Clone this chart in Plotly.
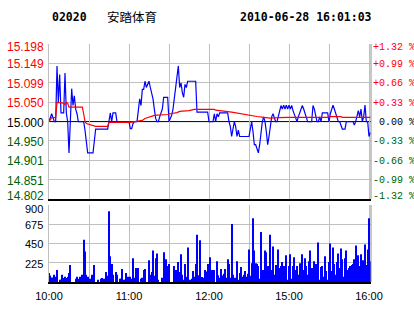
import plotly.graph_objects as go

# ---------------- data ----------------
stock_code = "02020"
stock_name = "安踏体育"
stamp = "2010-06-28 16:01:03"
prev_close = 15.000

# minutes since 10:00 on a compressed trading-time axis (lunch break removed)
price_minute = [0, 1, 2, 3, 4, 5, 6, 7, 8, 9, 10, 11, 12, 13, 14, 15, 16, 17, 18, 19, 20, 21, 22, 26,
                27, 28, 29, 33, 34, 35, 44, 45, 46, 47, 48, 50, 51, 60, 61, 62, 63, 64, 66, 67, 68, 69,
                70, 71, 72, 73, 74, 75, 76, 77, 78, 79, 80, 81, 82, 83, 84, 85, 86, 89, 90, 91, 92, 93,
                94, 95, 96, 97, 98, 99, 100, 101, 102, 103, 104, 110, 111, 119, 120, 123, 124, 125, 126,
                127, 128, 134, 135, 136, 137, 138, 139, 140, 141, 142, 143, 150, 151, 152, 153, 154, 155,
                156, 157, 158, 159, 160, 161, 162, 163, 164, 165, 166, 167, 168, 169, 170, 171, 172, 173,
                174, 175, 176, 177, 178, 179, 180, 181, 182, 183, 184, 185, 186, 187, 188, 189, 190, 191,
                192, 193, 194, 197, 198, 199, 200, 201, 202, 203, 204, 205, 209, 210, 211, 212, 213, 214,
                215, 216, 217, 218, 219, 220, 222, 223, 228, 229, 230, 231, 232, 233, 234, 235, 236, 237,
                238, 239, 240, 241]
price = [15.000, 15.010, 15.020, 15.010, 15.000, 15.000, 15.142, 15.049, 15.120, 15.022, 15.022, 15.022,
         15.124, 15.022, 15.000, 14.920, 15.000, 15.084, 15.041, 15.066, 15.032, 15.020, 15.000, 15.000,
         14.978, 14.953, 14.920, 14.920, 14.953, 14.981, 14.981, 15.000, 15.022, 15.000, 15.022, 15.022,
         15.000, 15.000, 14.982, 14.982, 14.995, 15.000, 15.000, 15.028, 15.058, 15.041,
         15.082, 15.082, 15.103, 15.087, 15.095, 15.103, 15.087, 15.074, 15.058, 15.032, 15.008, 15.000,
         15.000, 15.012, 15.020, 15.032, 15.062, 15.062, 15.000, 15.008, 15.016, 15.032,
         15.058, 15.082, 15.103, 15.142, 15.087, 15.099, 15.074, 15.062, 15.095, 15.087, 15.103, 15.103,
         15.024, 15.024, 15.000, 15.000, 15.020, 15.000, 15.020,
         15.012, 15.022, 15.022, 15.000, 14.987, 14.962, 14.987, 15.000, 14.987, 14.962, 14.978, 14.962,
         14.962, 14.978, 15.000, 14.974, 14.941, 14.941,
         14.928, 14.920, 14.941, 14.978, 15.000, 15.012, 15.000, 14.974, 14.941, 14.962, 14.987, 15.012,
         15.020, 15.012, 15.000, 15.000, 15.012, 15.024,
         15.041, 15.032, 15.042, 15.032, 15.042, 15.032, 15.042, 15.032, 15.041, 15.028, 15.020, 15.012,
         15.000, 15.012, 15.022, 15.032, 15.041, 15.032,
         15.020, 15.012, 15.000, 15.000, 15.041, 15.032, 15.012, 15.000, 15.000, 15.012, 15.000, 15.022,
         15.022, 15.000, 15.020, 15.032, 15.042, 15.032,
         15.020, 15.012, 15.000, 15.000, 14.987, 14.981, 14.981, 15.000, 15.000, 14.991, 15.000, 15.012,
         15.028, 15.012, 15.032, 15.000, 15.012, 15.042,
         15.000, 15.000, 14.962, 14.972]

avg_minute = [0, 2, 5, 6, 11, 12, 13, 14, 15, 25, 26, 27, 28, 32, 35, 44, 45, 61, 70, 72, 75, 79, 89, 91,
              96, 98, 105, 109, 124, 125, 137, 143, 151, 156, 161, 166, 172, 180, 210, 211, 219, 220, 241]
avg_price = [15.000, 15.010, 15.010, 15.049, 15.047, 15.043, 15.049, 15.047, 15.037, 15.037, 15.020,
             15.000, 14.995, 14.991, 14.988, 14.988, 14.998, 14.998, 15.003, 15.008, 15.012, 15.016,
             15.018, 15.020, 15.023, 15.026, 15.028, 15.031, 15.031, 15.029, 15.024, 15.020, 15.016,
             15.013, 15.011, 15.009, 15.010, 15.011, 15.011, 15.0125, 15.0125, 15.011, 15.011]

vol_minute = [0, 1, 2, 3, 4, 5, 6, 8, 9, 10, 11, 12, 13, 14, 15, 16, 20, 21, 22, 23, 24, 25, 26, 27, 28,
              29, 31, 32, 33, 34, 37, 39, 40, 41, 42, 43, 44, 45, 46, 47, 48, 50, 51, 53, 54, 55, 56, 57,
              58, 59, 60, 61, 62, 63, 64, 65, 66, 67, 69, 70, 71, 72, 75, 76, 77, 78, 79, 80, 81, 82,
              85, 86, 87, 88, 89, 90, 94, 95, 96, 97, 98, 99, 100, 101, 102, 103, 104, 106, 107, 108,
              109, 110, 111, 112, 113, 115, 116, 117, 118, 119, 120, 121, 122, 123, 124, 126, 127, 128,
              129, 130, 131, 132, 133, 134, 135, 136, 137, 138, 139, 140, 141, 142, 143, 144, 145, 146,
              147, 148, 149, 150, 151, 152, 153, 154, 155, 156, 157, 158, 159, 160, 161, 162, 163, 164,
              165, 166, 167, 168, 169, 170, 171, 172, 173, 174, 175, 176, 177, 178, 179, 180, 181, 182,
              183, 184, 185, 186, 187, 188, 189, 190, 191, 192, 193, 194, 195, 196, 197, 198, 199, 200,
              201, 202, 203, 204, 205, 206, 207, 208, 209, 210, 211, 212, 213, 214, 215, 216, 217, 218,
              219, 220, 221, 222, 223, 224, 225, 226, 227, 228, 229, 230, 231, 232, 233, 234, 235, 236,
              237, 238, 239, 240, 241]
vol_value = [106, 76, 53, 30, 84, 61, 140, 27, 27, 84, 46, 61, 46, 61, 106, 198, 38, 61, 38, 61, 38, 84,
             494, 357, 84, 61, 38, 84, 38, 198, 27, 38, 46, 38, 27, 118, 72, 825, 300, 209, 84, 118, 84,
             38, 38, 152, 27, 27, 106, 61, 38, 61, 38, 277, 49, 163, 84, 163, 38, 49, 140, 152, 255, 84,
             118, 369, 72, 277, 334, 27, 49, 346, 27, 266, 186, 209, 186, 140, 95, 232, 118, 323, 84,
             27, 209, 61, 403, 27, 38, 129, 61, 209, 551, 80, 486, 57, 49, 140, 122, 209, 49, 289, 140,
             140, 140, 243, 80, 49, 152, 76, 95, 152, 49, 266, 209, 49, 676, 84, 49, 49, 243, 27, 106,
             175, 61, 84, 129, 61, 95, 380, 72, 220, 745, 369, 220, 209, 186, 38, 585, 140, 140, 369,
             346, 186, 61, 551, 140, 414, 84, 198, 61, 380, 163, 186, 232, 186, 27, 312, 27, 186, 323,
             38, 186, 289, 140, 186, 84, 220, 163, 323, 140, 277, 186, 84, 243, 369, 163, 84, 243, 209,
             198, 460, 27, 175, 186, 61, 300, 129, 27, 232, 448, 129, 403, 209, 84, 232, 334, 163, 391,
             266, 61, 277, 369, 140, 163, 186, 198, 209, 266, 425, 266, 312, 186, 323, 255, 255, 437,
             198, 380, 745, 243]

pct_levels = [1.32, 0.99, 0.66, 0.33, 0.00, -0.33, -0.66, -0.99, -1.32]
price_labels = ["15.198", "15.149", "15.099", "15.050", "15.000", "14.950", "14.901", "14.851", "14.802"]
pct_labels = ["+1.32 %", "+0.99 %", "+0.66 %", "+0.33 %", "\u00a00.00 %", "-0.33 %", "-0.66 %", "-0.99 %", "-1.32 %"]
time_ticks = [0, 30, 60, 90, 120, 150, 180, 210, 240]
time_labels = ["10:00", "", "11:00", "", "12:00", "", "15:00", "", "16:00"]
vol_ticks = [225, 450, 675, 900]
vol_labels = ["225", "450", "675", "900"]

# ---------------- styling ----------------
RED = "#ff0000"
GREEN = "#005f00"
GRID = "#c0c0c0"
FRAME = "#909090"
x_max = 241.5
vol_max = 900


def level_color(p):
    return RED if p > 0 else (GREEN if p < 0 else "#000000")


tick_pos = [prev_close * (1 + p / 100) for p in pct_levels]
y_lo = prev_close * (1 + min(pct_levels) / 100)
y_hi = prev_close * (1 + max(pct_levels) / 100)
grid_pos = [v for v, p in zip(tick_pos, pct_levels) if p != 0]

fig = go.Figure()
fig.add_trace(go.Bar(x=vol_minute, y=vol_value, xaxis="x2", yaxis="y2", width=0.75,
                     marker=dict(color="#0000ff", line=dict(width=0))))
fig.add_trace(go.Scatter(x=price_minute, y=price, xaxis="x", yaxis="y", mode="lines",
                         line=dict(color="#0000ff", width=1.2)))
fig.add_trace(go.Scatter(x=avg_minute, y=avg_price, xaxis="x", yaxis="y", mode="lines",
                         line=dict(color=RED, width=1.2)))

top_dom = [0.348, 1.0]
bot_dom = [0.0, 0.324]

fig.update_layout(
    width=414, height=314,
    margin=dict(l=49, r=43, t=44, b=26),
    paper_bgcolor="white", plot_bgcolor="white",
    showlegend=False, hovermode=False,
    xaxis=dict(domain=[0, 1], anchor="y", range=[0, x_max], tickmode="array", tickvals=time_ticks,
               showticklabels=False, ticks="", showgrid=True, gridcolor=GRID, gridwidth=1,
               zeroline=False, showline=True, linecolor="#000000", linewidth=2),
    yaxis=dict(domain=top_dom, anchor="x", range=[y_lo, y_hi], tickmode="array", tickvals=grid_pos,
               showticklabels=False, ticks="",
               showgrid=True, gridcolor=GRID, gridwidth=1, zeroline=False,
               showline=True, linecolor=GRID, linewidth=1),
    xaxis2=dict(domain=[0, 1], anchor="y2", range=[0, x_max], tickmode="array", tickvals=time_ticks,
                ticktext=time_labels, tickfont=dict(family="Liberation Sans", size=11, color="#000000"),
                ticks="", ticklabelstandoff=3,
                showgrid=True, gridcolor=GRID, gridwidth=1, zeroline=False,
                showline=True, linecolor="#000000", linewidth=2),
    yaxis2=dict(domain=bot_dom, anchor="x2", range=[0, vol_max], tickmode="array", tickvals=vol_ticks,
                showticklabels=False, ticks="", showgrid=True, gridcolor=GRID, gridwidth=1,
                zeroline=False, showline=True, linecolor=GRID, linewidth=1),
)

# previous-close line and right-hand frames
fig.add_shape(type="line", xref="x domain", yref="y", x0=0, x1=1, y0=prev_close, y1=prev_close,
              line=dict(color="#000000", width=1), layer="below")
fig.add_shape(type="line", xref="x domain", yref="y domain", x0=1, x1=1, y0=0, y1=1,
              line=dict(color=FRAME, width=1))
fig.add_shape(type="line", xref="x2 domain", yref="y2 domain", x0=1, x1=1, y0=0, y1=1,
              line=dict(color=FRAME, width=1))

# price / percent labels on both sides
n = len(pct_levels)
for i, (v, p, lt, rt) in enumerate(zip(tick_pos, pct_levels, price_labels, pct_labels)):
    ys = -3 if i == 0 else (3 if i == n - 1 else -1)
    c = level_color(p)
    fig.add_annotation(xref="paper", yref="y", x=0, y=v, xanchor="right", yanchor="middle",
                       xshift=-3, yshift=ys, showarrow=False, text=lt,
                       font=dict(family="Liberation Sans", size=12, color=c))
    fig.add_annotation(xref="paper", yref="y", x=1, y=v, xanchor="left", yanchor="middle",
                       xshift=0, yshift=ys, showarrow=False, text=rt,
                       font=dict(family="Liberation Mono", size=10, color=c))

# volume labels
for v, t in zip(vol_ticks, vol_labels):
    ys = -4 if v == vol_max else -1
    fig.add_annotation(xref="paper", yref="y2", x=0, y=v, xanchor="right", yanchor="middle",
                       xshift=-4, yshift=ys, showarrow=False, text=t,
                       font=dict(family="Liberation Sans", size=11, color="#000000"))

# header
title_y = 1 + (44 - 16) / 244
fig.add_annotation(xref="paper", yref="paper", x=(50 - 49) / 322, y=title_y, xanchor="left",
                   yanchor="middle", showarrow=False, text="<b>" + stock_code + "</b>",
                   font=dict(family="DejaVu Sans Mono", size=11.5, color="#000000"))
fig.add_annotation(xref="paper", yref="paper", x=(105 - 49) / 322, y=title_y, xanchor="left",
                   yanchor="middle", showarrow=False, text=stock_name,
                   font=dict(family="Noto Sans CJK SC", size=12.5, color="#000000"))
fig.add_annotation(xref="paper", yref="paper", x=(238 - 49) / 322, y=title_y, xanchor="left",
                   yanchor="middle", showarrow=False, text="<b>" + stamp + "</b>",
                   font=dict(family="DejaVu Sans Mono", size=11.5, color="#000000"))

fig.write_html("out.html")
